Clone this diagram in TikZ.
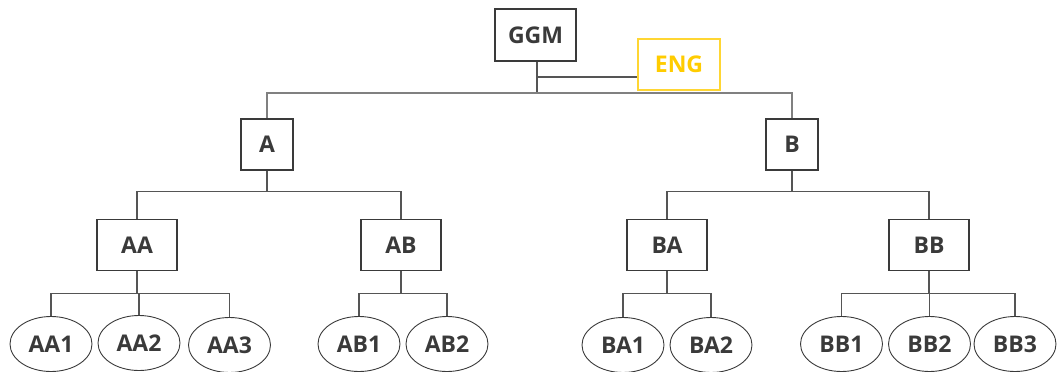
\documentclass[tikz,border=0pt]{standalone}
\usepackage{fontspec}
\setmainfont{Open Sans}
\usetikzlibrary{positioning,shapes.geometric}
\definecolor{ink}{RGB}{58,58,58}
\definecolor{wire}{RGB}{85,85,85}
\definecolor{gold}{RGB}{255,204,0}

\begin{document}
\begin{tikzpicture}[x=1pt,y=-1pt,
    every node/.style={font=\fontsize{23}{26}\selectfont\bfseries,text=ink,align=center,inner sep=0pt},
    unit/.style={draw=ink,line width=1.1pt,fill=white,minimum width=80pt,minimum height=51pt},
    head/.style={unit,minimum width=52pt},
    leaf/.style={ellipse,draw=ink,line width=0.9pt,minimum width=82pt,minimum height=55pt},
    wire/.style={draw=wire,line width=1.1pt}]
    \useasboundingbox (0,0) rectangle (1058,372);
    % top
    \node[unit,minimum width=81pt,minimum height=52pt] (ggm) at (535.5,35) {GGM};
    \node[unit,draw=gold!80,text=gold,minimum width=82pt] (eng) at (679,64.5) {ENG};
    \coordinate (top) at (537,93);
    \coordinate (tap) at (537,77);
    \draw[wire] (ggm.south -| top) -- (top);
    \draw[wire] (tap) -- (tap -| eng.west);
    % second level
    \node[head] (a) at (267,144.5) {A};
    \node[head] (b) at (792,144.5) {B};
    \draw[wire,draw=gray] (top) -| (a.north);
    \draw[wire,draw=gray] (top) -| (b.north);
    % third level
    \node[unit] (aa) at (137,245) {AA};
    \node[unit] (ab) at (401,245) {AB};
    \node[unit] (ba) at (667,245) {BA};
    \node[unit] (bb) at (929,245) {BB};
    \foreach \p/\c in {a/aa,a/ab,b/ba,b/bb}{\draw[wire] (\p.south) -- ++(0,21) -| (\c.north);}
    % leaves
    \node[leaf] (aa1) at (51,344) {AA1};
    \node[leaf] (aa2) at (139,343) {AA2};
    \node[leaf] (aa3) at (229.5,345) {AA3};
    \node[leaf] (ab1) at (359,344) {AB1};
    \node[leaf] (ab2) at (447,344) {AB2};
    \node[leaf] (ba1) at (623,345) {BA1};
    \node[leaf] (ba2) at (711,345) {BA2};
    \node[leaf] (bb1) at (841.5,344) {BB1};
    \node[leaf] (bb2) at (929.5,344) {BB2};
    \node[leaf] (bb3) at (1015,344) {BB3};
    \foreach \p/\c in {aa/aa1,aa/aa2,aa/aa3,ab/ab1,ab/ab2,ba/ba1,ba/ba2,bb/bb1,bb/bb2,bb/bb3}{\draw[wire] (\p.south) -- ++(0,22) -| (\c.north);}
\end{tikzpicture}
\end{document}
